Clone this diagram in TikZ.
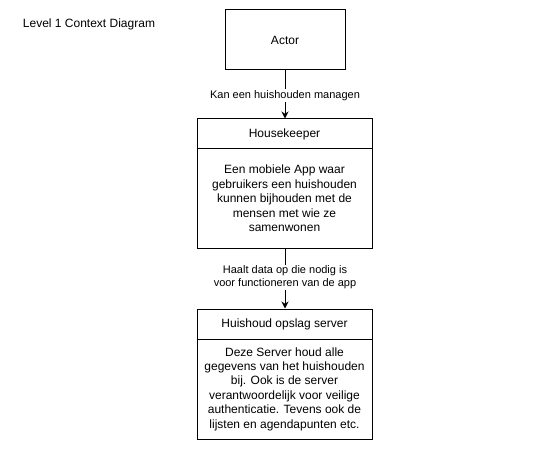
\documentclass[tikz,border=0pt]{standalone}
\usepackage{fontspec}
\setmainfont{Liberation Sans}
\usetikzlibrary{arrows.meta}
\begin{document}
\begin{tikzpicture}[x=1pt,y=-1pt,
  box/.style={draw, line width=1pt, inner sep=0pt, align=center, font=\fontsize{12}{14.4}\selectfont},
  lbl/.style={fill=white, inner sep=1pt, align=center, font=\fontsize{11}{13.2}\selectfont},
  arr/.style={line width=1pt, -{Stealth[length=7pt,width=7pt]}},
  ttl/.style={inner sep=0pt, font=\fontsize{12}{14.4}\selectfont}]
\useasboundingbox[fill=white] (0,0) rectangle (558,452);
\node[ttl] (title) at (89,24) {Level 1 Context Diagram};
\node[box, minimum width=120pt, minimum height=60pt] (actor) at (285,40) {Actor};
\node[box, minimum width=175pt, minimum height=30pt] (hkhead) at (284.5,134) {Housekeeper};
\node[box, minimum width=175pt, minimum height=99pt] (hkbody) at (284.5,198.5) {Een mobiele App waar\\gebruikers een huishouden\\kunnen bijhouden met de\\mensen met wie ze\\samenwonen};
\node[box, minimum width=175pt, minimum height=30pt] (srvhead) at (284.5,324) {Huishoud opslag server};
\node[box, minimum width=175pt, minimum height=100pt] (srvbody) at (284.5,389) {Deze Server houd alle\\gegevens van het huishouden\\bij. Ook is de server\\verantwoordelijk voor veilige\\authenticatie. Tevens ook de\\lijsten en agendapunten etc.};
\draw[arr] (actor.south) -- (actor.south |- hkhead.north) node[lbl, pos=0.52] (l1) {Kan een huishouden managen};
\draw[arr] (actor.south |- hkbody.south) -- (actor.south |- srvhead.north) node[lbl, pos=0.48] (l2) {Haalt data op die nodig is\\voor functioneren van de app};
\end{tikzpicture}
\end{document}
